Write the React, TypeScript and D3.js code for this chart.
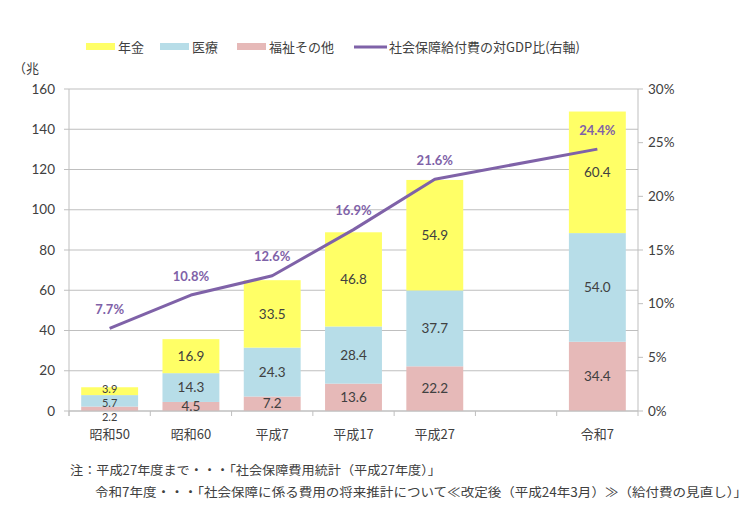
import React from "react";
import * as d3 from "d3";

const categories = ["昭和50", "昭和60", "平成7", "平成17", "平成27", "", "令和7"];
const pension = [3.9, 16.9, 33.5, 46.8, 54.9, null, 60.4];
const medical = [5.7, 14.3, 24.3, 28.4, 37.7, null, 54.0];
const welfare = [2.2, 4.5, 7.2, 13.6, 22.2, null, 34.4];
const gdpRatio = [7.7, 10.8, 12.6, 16.9, 21.6, null, 24.4];
const leftTicks = [0, 20, 40, 60, 80, 100, 120, 140, 160];
const rightTicks = [0, 5, 10, 15, 20, 25, 30];

const W = 752, H = 528;
const L = 69, R = 638, T = 89, B = 411;
const FONT = "'Noto Sans CJK JP', 'Noto Sans', sans-serif";
const NUMFONT = "Lato, 'Noto Sans', sans-serif";
const TXT = "#404040";
const C_PEN = "#FFFF66", C_MED = "#B7DDE8", C_WEL = "#E6B9B8", C_LINE = "#7F62A8";

export default function App() {
  const x = d3.scaleBand<string>().domain(categories.map((c, i) => i + "")).range([L, R]).paddingInner(0.3).paddingOuter(0.15);
  const y = d3.scaleLinear().domain([0, 160]).range([B, T]);
  const y2 = d3.scaleLinear().domain([0, 30]).range([B, T]);
  const step = x.step();
  const bw = x.bandwidth();
  const cx = (i: number) => (x(i + "") as number) + bw / 2;

  const segs: any[] = [];
  categories.forEach((c, i) => {
    if (welfare[i] == null) return;
    const parts = [
      { v: welfare[i] as number, col: C_WEL },
      { v: medical[i] as number, col: C_MED },
      { v: pension[i] as number, col: C_PEN },
    ];
    let base = 0;
    const total = parts.reduce((a, p) => a + p.v, 0);
    parts.forEach((p, k) => {
      segs.push({ i, k, y0: base, y1: base + p.v, v: p.v, col: p.col, thin: y(0) - y(total) < 40, total });
      base += p.v;
    });
  });

  // spread labels of very thin stacks so they do not collide
  const labelY = (s: any) => {
    if (s.thin) {
      const c = (y(0) + y(s.total)) / 2;
      return c + (1 - s.k) * 14 + 4;
    }
    return (y(s.y0) + y(s.y1)) / 2;
  };

  const pts = gdpRatio.map((v, i) => ({ v, i })).filter((d) => d.v != null) as { v: number; i: number }[];
  const line = d3.line<{ v: number; i: number }>().x((d) => cx(d.i)).y((d) => y2(d.v));

  const legend = [
    { type: "rect", col: C_PEN, x: 86, label: "年金" },
    { type: "rect", col: C_MED, x: 160, label: "医療" },
    { type: "rect", col: C_WEL, x: 237, label: "福祉その他" },
    { type: "line", col: C_LINE, x: 354, label: "社会保障給付費の対GDP比(右軸)" },
  ];

  return (
    <div style={{ position: "absolute", left: 0, top: 0 }}>
      <svg width={W} height={H} style={{ display: "block", background: "#fff" }} fontFamily={FONT}>
        {leftTicks.map((t) => (
          <line key={"g" + t} x1={L} x2={R} y1={y(t)} y2={y(t)} stroke="#BFBFBF" strokeWidth={1} />
        ))}
        <line x1={L} x2={L} y1={T} y2={B + 5} stroke="#BFBFBF" />
        <line x1={R} x2={R} y1={T} y2={B} stroke="#BFBFBF" />
        {leftTicks.map((t) => (
          <line key={"lt" + t} x1={L - 5} x2={L} y1={y(t)} y2={y(t)} stroke="#BFBFBF" />
        ))}
        {rightTicks.map((t) => (
          <line key={"rt" + t} x1={R} x2={R + 5} y1={y2(t)} y2={y2(t)} stroke="#BFBFBF" />
        ))}
        {categories.map((c, i) => (
          <line key={"xt" + i} x1={L + step * i} x2={L + step * i} y1={B} y2={B + 5} stroke="#BFBFBF" />
        ))}
        <line x1={R} x2={R} y1={B} y2={B + 5} stroke="#BFBFBF" />
        {segs.map((s, j) => (
          <rect key={"b" + j} x={x(s.i + "") as number} width={bw} y={y(s.y1)} height={y(s.y0) - y(s.y1)} fill={s.col} />
        ))}
        <line x1={L} x2={R} y1={B} y2={B} stroke="#BFBFBF" />
        {segs.map((s, j) => (
          <text key={"bl" + j} x={cx(s.i)} y={labelY(s)} dy="0.35em" textAnchor="middle" fontFamily={NUMFONT} fontSize={s.thin ? 11 : 13.5} fill={TXT}>
            {s.v.toFixed(1)}
          </text>
        ))}
        <path d={line(pts) as string} fill="none" stroke={C_LINE} strokeWidth={3} strokeLinejoin="round" />
        {pts.map((p) => (
          <text key={"pl" + p.i} x={cx(p.i)} y={y2(p.v) - 19} dy="0.35em" textAnchor="middle" fontFamily={NUMFONT} fontSize={13} fontWeight="bold" fill={C_LINE}>
            {p.v.toFixed(1) + "%"}
          </text>
        ))}
        {leftTicks.map((t) => (
          <text key={"yl" + t} x={55} y={y(t)} dy="0.35em" textAnchor="end" fontFamily={NUMFONT} fontSize={13.5} fill={TXT}>{t}</text>
        ))}
        {rightTicks.map((t) => (
          <text key={"yr" + t} x={648} y={y2(t)} dy="0.35em" textAnchor="start" fontFamily={NUMFONT} fontSize={13.5} fill={TXT}>{t + "%"}</text>
        ))}
        <text x={13} y={68} dy="0.35em" fontSize={13} fill={TXT}>（兆</text>
        {categories.map((c, i) => (
          <text key={"xl" + i} x={cx(i)} y={434} dy="0.35em" textAnchor="middle" fontSize={13} fill={TXT}>{c}</text>
        ))}
        {legend.map((l, i) => (
          <g key={"lg" + i}>
            {l.type === "rect" ? (
              <rect x={l.x} y={43} width={29} height={7} fill={l.col} />
            ) : (
              <line x1={l.x} x2={l.x + 33} y1={47} y2={47} stroke={l.col} strokeWidth={3} />
            )}
            <text x={l.x + (l.type === "rect" ? 32 : 35)} y={47} dy="0.35em" fontSize={13} fill={TXT}>{l.label}</text>
          </g>
        ))}
        <text x={70} y={471} dy="0.35em" fontSize={12.5} fill={TXT} textLength={371} lengthAdjust="spacingAndGlyphs">
          注：平成27年度まで・・・「社会保障費用統計（平成27年度）」
        </text>
        <text x={95} y={493} dy="0.35em" fontSize={12.5} fill={TXT} textLength={652} lengthAdjust="spacingAndGlyphs">
          令和7年度・・・「社会保障に係る費用の将来推計について≪改定後（平成24年3月）≫（給付費の見直し）」
        </text>
      </svg>
    </div>
  );
}
